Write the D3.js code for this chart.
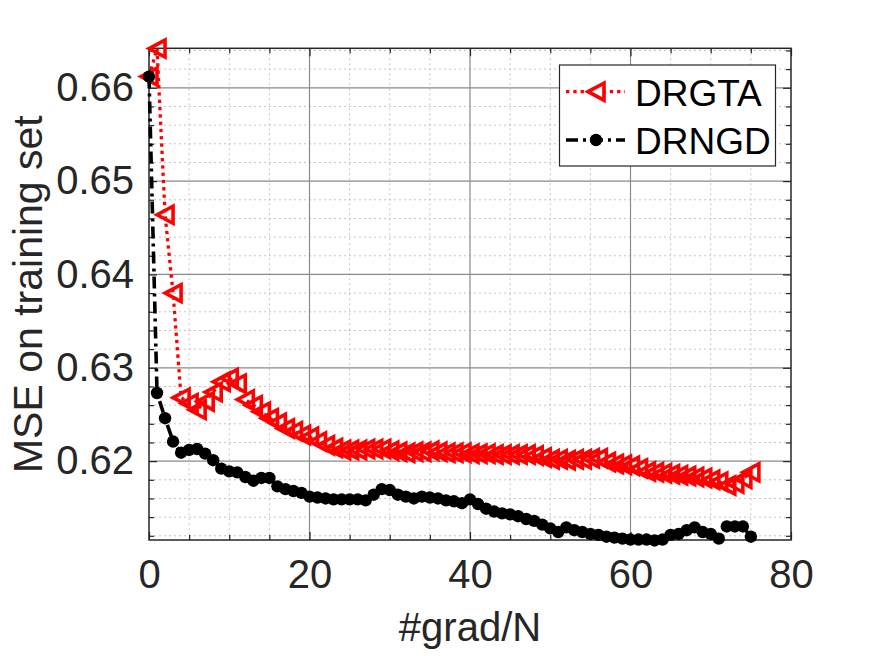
<!DOCTYPE html>
<html>
<head>
<meta charset="utf-8">
<script src="https://cdn.jsdelivr.net/npm/d3@7"></script>
<style>
  body { margin: 0; background: #fff; }
  svg { font-family: "Liberation Sans", Arial, sans-serif; }
</style>
</head>
<body>
<div id="chart"></div>
<script>
// #grad/N, one point per pass
var iters = d3.range(0, 76);

// DRGTA, red dotted with left triangles
var drgta = [0.6612, 0.6642, 0.6464, 0.6380, 0.6268, 0.6262, 0.6255, 0.6264, 0.6274, 0.6285,
             0.6289, 0.6283, 0.6266, 0.6260, 0.6253, 0.6246, 0.6241, 0.6235, 0.6232, 0.6228,
             0.6226, 0.6221, 0.6217, 0.6214, 0.6212, 0.6212, 0.6212, 0.6213, 0.6213, 0.6213,
             0.6211, 0.6210, 0.6209, 0.6210, 0.6210, 0.6211, 0.6210, 0.6209, 0.6209, 0.6209,
             0.6208, 0.6208, 0.6208, 0.6207, 0.6207, 0.6207, 0.6207, 0.6207, 0.6206, 0.6204,
             0.6202, 0.6202, 0.6201, 0.6202, 0.6202, 0.6203, 0.6203, 0.6199, 0.6197, 0.6196,
             0.6195, 0.6192, 0.6189, 0.6188, 0.6187, 0.6186, 0.6185, 0.6184, 0.6183, 0.6182,
             0.6180, 0.6178, 0.6174, 0.6176, 0.6181, 0.6188];

// DRNGD, black dash-dot with filled dots
var drngd = [0.6612, 0.6273, 0.6246, 0.6221, 0.6209, 0.6212, 0.6213, 0.6208, 0.6201, 0.6192,
             0.6189, 0.6188, 0.6183, 0.6179, 0.6182, 0.6182, 0.6173, 0.6170, 0.6168, 0.6166,
             0.6162, 0.6161, 0.6160, 0.6159, 0.6159, 0.6159, 0.6159, 0.6158, 0.6164, 0.6170,
             0.6169, 0.6164, 0.6162, 0.6160, 0.6162, 0.6161, 0.6160, 0.6158, 0.6157, 0.6155,
             0.6159, 0.6154, 0.6149, 0.6146, 0.6144, 0.6143, 0.6141, 0.6138, 0.6136, 0.6132,
             0.6128, 0.6124, 0.6129, 0.6126, 0.6124, 0.6122, 0.6121, 0.6119, 0.6118, 0.6117,
             0.6116, 0.6116, 0.6116, 0.6115, 0.6116, 0.6121, 0.6122, 0.6126, 0.6129, 0.6124,
             0.6122, 0.6117, 0.6130, 0.6130, 0.6130, 0.6119];

var xTicks = [0, 20, 40, 60, 80];
var yTicks = [0.62, 0.63, 0.64, 0.65, 0.66];
var seriesNames = ["DRGTA", "DRNGD"];

var w = 875;
var h = 656;
var pLeft = 149, pRight = 791, pTop = 48.3, pBottom = 540;

var xscale = d3.scaleLinear().domain([0, 80]).range([pLeft, pRight]);
var yscale = d3.scaleLinear().domain([0.61155, 0.66423]).range([pBottom, pTop]);

var xMinor = d3.range(0, 81, 5).filter(function(d) { return d % 20 !== 0; });
var yMinor = d3.range(0.612, 0.6642, 0.002).filter(function(d) {
    return Math.abs(d * 100 - Math.round(d * 100)) > 1e-6;
});

var svg = d3.select("#chart")
            .append("svg")
            .attr("width", w)
            .attr("height", h);

// minor grid
var minorGrid = svg.append("g").attr("class", "minor-grid")
    .attr("stroke", "#c4c4c4").attr("stroke-width", 1).attr("stroke-dasharray", "2,3");
minorGrid.selectAll("line.vx")
    .data(xMinor).enter().append("line")
    .attr("x1", function(d) { return xscale(d); })
    .attr("x2", function(d) { return xscale(d); })
    .attr("y1", pTop).attr("y2", pBottom);
minorGrid.selectAll("line.hy")
    .data(yMinor).enter().append("line")
    .attr("y1", function(d) { return yscale(d); })
    .attr("y2", function(d) { return yscale(d); })
    .attr("x1", pLeft).attr("x2", pRight);

// major grid
var majorGrid = svg.append("g").attr("class", "major-grid")
    .attr("stroke", "#8a8a8a").attr("stroke-width", 1.2);
majorGrid.selectAll("line.vx")
    .data(xTicks.slice(1, -1)).enter().append("line")
    .attr("x1", function(d) { return xscale(d); })
    .attr("x2", function(d) { return xscale(d); })
    .attr("y1", pTop).attr("y2", pBottom);
majorGrid.selectAll("line.hy")
    .data(yTicks).enter().append("line")
    .attr("y1", function(d) { return yscale(d); })
    .attr("y2", function(d) { return yscale(d); })
    .attr("x1", pLeft).attr("x2", pRight);

// axes: inward ticks on all four sides
var styleAxis = function(g) {
    g.attr("font-size", 40)
     .attr("font-family", "'Liberation Sans', Arial, sans-serif");
    g.select(".domain").remove();
    g.selectAll(".tick line").attr("stroke", "#262626").attr("stroke-width", 1.2);
    g.selectAll(".tick text").attr("fill", "#262626");
};

svg.append("g")
    .attr("class", "x axis")
    .attr("transform", "translate(0," + pBottom + ")")
    .call(d3.axisBottom(xscale).tickValues(xTicks).tickSizeInner(-8).tickSizeOuter(0)
          .tickPadding(20).tickFormat(d3.format("d")))
    .call(styleAxis);

svg.append("g")
    .attr("class", "y axis")
    .attr("transform", "translate(" + pLeft + ",0)")
    .call(d3.axisLeft(yscale).tickValues(yTicks).tickSizeInner(-8).tickSizeOuter(0)
          .tickPadding(15).tickFormat(d3.format(".2f")))
    .call(styleAxis);

svg.append("g")
    .attr("transform", "translate(0," + pTop + ")")
    .call(d3.axisTop(xscale).tickValues(xTicks).tickSizeInner(-8).tickSizeOuter(0).tickFormat(""))
    .call(styleAxis);

svg.append("g")
    .attr("transform", "translate(" + pRight + ",0)")
    .call(d3.axisRight(yscale).tickValues(yTicks).tickSizeInner(-8).tickSizeOuter(0).tickFormat(""))
    .call(styleAxis);

// minor ticks
svg.append("g")
    .attr("transform", "translate(" + pLeft + ",0)")
    .call(d3.axisLeft(yscale).tickValues(yMinor).tickSizeInner(-5).tickSizeOuter(0).tickFormat(""))
    .call(styleAxis);
svg.append("g")
    .attr("transform", "translate(" + pRight + ",0)")
    .call(d3.axisRight(yscale).tickValues(yMinor).tickSizeInner(-5).tickSizeOuter(0).tickFormat(""))
    .call(styleAxis);
svg.append("g")
    .attr("transform", "translate(0," + pBottom + ")")
    .call(d3.axisBottom(xscale).tickValues(xMinor).tickSizeInner(-5).tickSizeOuter(0).tickFormat(""))
    .call(styleAxis);
svg.append("g")
    .attr("transform", "translate(0," + pTop + ")")
    .call(d3.axisTop(xscale).tickValues(xMinor).tickSizeInner(-5).tickSizeOuter(0).tickFormat(""))
    .call(styleAxis);

// axes box
svg.append("rect")
    .attr("x", pLeft).attr("y", pTop)
    .attr("width", pRight - pLeft).attr("height", pBottom - pTop)
    .attr("fill", "none").attr("stroke", "#262626").attr("stroke-width", 1.5);

// series
var line = d3.line()
    .x(function(d) { return xscale(d.x); })
    .y(function(d) { return yscale(d.y); });

var redData = iters.map(function(d, i) { return {x: d, y: drgta[i]}; });
var blackData = iters.map(function(d, i) { return {x: d, y: drngd[i]}; });

var triPath = "M-8,0L8,-8.5L8,8.5Z";

svg.append("path")
    .datum(redData)
    .attr("d", line)
    .attr("fill", "none")
    .attr("stroke", "#ff0000")
    .attr("stroke-width", 3.3)
    .attr("stroke-dasharray", "3.3,4");

svg.append("g")
    .attr("id", "red_markers")
    .selectAll("path")
    .data(redData)
    .enter()
    .append("path")
    .attr("d", triPath)
    .attr("transform", function(d) {
        return "translate(" + xscale(d.x) + "," + yscale(d.y) + ")";
    })
    .attr("fill", "none")
    .attr("stroke", "#ff0000")
    .attr("stroke-width", 3.6);

svg.append("path")
    .datum(blackData)
    .attr("d", line)
    .attr("fill", "none")
    .attr("stroke", "#000")
    .attr("stroke-width", 3.6)
    .attr("stroke-dasharray", "12,5,3,5");

svg.append("g")
    .attr("id", "black_circles")
    .selectAll("circle")
    .data(blackData)
    .enter()
    .append("circle")
    .attr("cx", function(d) { return xscale(d.x); })
    .attr("cy", function(d) { return yscale(d.y); })
    .attr("r", 6.2)
    .attr("fill", "#000");

// axis labels
svg.append("text")
    .attr("x", (pLeft + pRight) / 2)
    .attr("y", 641)
    .attr("text-anchor", "middle")
    .attr("font-size", 40)
    .attr("fill", "#262626")
    .text("#grad/N");

svg.append("text")
    .attr("transform", "translate(42," + ((pTop + pBottom) / 2) + ") rotate(-90)")
    .attr("text-anchor", "middle")
    .attr("font-size", 41)
    .attr("fill", "#262626")
    .text("MSE on training set");

// legend
var legend = svg.append("g").attr("class", "legend");
legend.append("rect")
    .attr("x", 559.5).attr("y", 65)
    .attr("width", 216).attr("height", 101)
    .attr("fill", "#fff")
    .attr("stroke", "#262626")
    .attr("stroke-width", 1.2);

var legendRows = [
    {name: seriesNames[0], y: 91.7, color: "#ff0000", dash: "3.3,4", width: 3.3},
    {name: seriesNames[1], y: 140, color: "#000", dash: "12,5,3,5", width: 3.6}
];

legendRows.forEach(function(r, i) {
    legend.append("line")
        .attr("x1", 566).attr("x2", 625)
        .attr("y1", r.y).attr("y2", r.y)
        .attr("stroke", r.color)
        .attr("stroke-width", r.width)
        .attr("stroke-dasharray", r.dash);
    if (i === 0) {
        legend.append("path")
            .attr("d", triPath)
            .attr("transform", "translate(596," + r.y + ")")
            .attr("fill", "#fff")
            .attr("stroke", r.color)
            .attr("stroke-width", 3.6);
    } else {
        legend.append("circle")
            .attr("cx", 596).attr("cy", r.y).attr("r", 6.2)
            .attr("fill", r.color);
    }
    legend.append("text")
        .attr("x", 635)
        .attr("y", r.y + 14)
        .attr("font-size", 37)
        .attr("fill", "#000")
        .text(r.name);
});
</script>
</body>
</html>
